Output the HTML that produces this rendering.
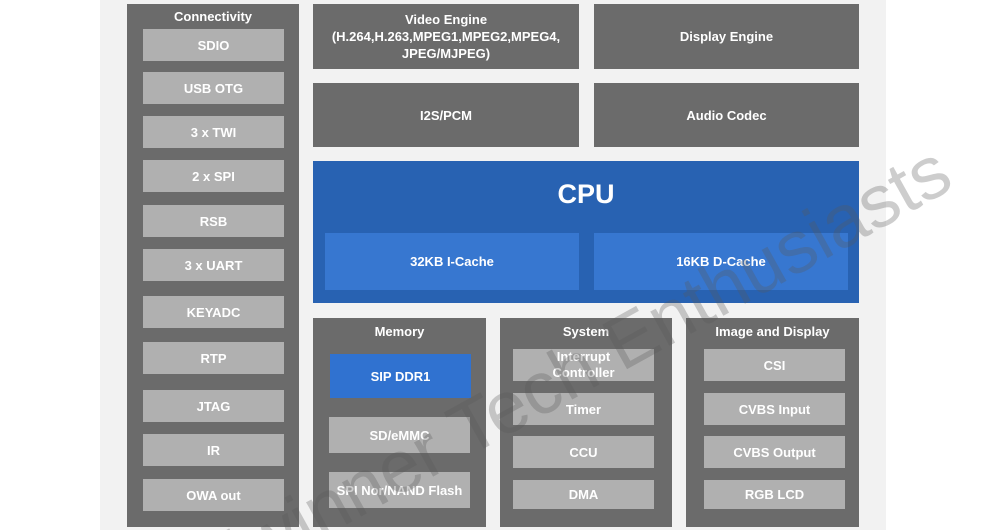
<!DOCTYPE html>
<html><head><style>
html,body{margin:0;width:990px;height:530px;overflow:hidden;background:#fff}
#w{position:relative;width:990px;height:530px;overflow:hidden;font-family:"Liberation Sans",sans-serif;font-weight:bold;color:#fff}
.bg{position:absolute;left:100px;top:0;width:786px;height:530px;background:#f2f2f2}
.d{position:absolute;background:#6b6b6b;display:flex;align-items:center;justify-content:center;text-align:center;font-size:13px;line-height:17px}
.l{position:absolute;background:#b0b0b0;display:flex;align-items:center;justify-content:center;text-align:center;font-size:13px;line-height:17px}
.t{position:absolute;left:0;right:0;text-align:center;font-size:13px}
svg{position:absolute;left:0;top:0;overflow:hidden}
</style></head><body><div id="w">
<div class="bg"></div>
<div class="d" style="left:127px;top:4px;width:172px;height:523px;display:block"><div class="t" style="top:4px">Connectivity</div></div>
<div class="l" style="left:143px;top:29px;width:141px;height:32px">SDIO</div>
<div class="l" style="left:143px;top:72px;width:141px;height:32px">USB OTG</div>
<div class="l" style="left:143px;top:116px;width:141px;height:32px">3 x TWI</div>
<div class="l" style="left:143px;top:160px;width:141px;height:32px">2 x SPI</div>
<div class="l" style="left:143px;top:205px;width:141px;height:32px">RSB</div>
<div class="l" style="left:143px;top:249px;width:141px;height:32px">3 x UART</div>
<div class="l" style="left:143px;top:296px;width:141px;height:32px">KEYADC</div>
<div class="l" style="left:143px;top:342px;width:141px;height:32px">RTP</div>
<div class="l" style="left:143px;top:390px;width:141px;height:32px">JTAG</div>
<div class="l" style="left:143px;top:434px;width:141px;height:32px">IR</div>
<div class="l" style="left:143px;top:479px;width:141px;height:32px">OWA out</div>

<div class="d" style="left:313px;top:4px;width:266px;height:65px">Video Engine<br>(H.264,H.263,MPEG1,MPEG2,MPEG4,<br>JPEG/MJPEG)</div>
<div class="d" style="left:594px;top:4px;width:265px;height:65px">Display Engine</div>
<div class="d" style="left:313px;top:83px;width:266px;height:64px">I2S/PCM</div>
<div class="d" style="left:594px;top:83px;width:265px;height:64px">Audio Codec</div>

<div style="position:absolute;left:313px;top:161px;width:546px;height:142px;background:#2862b2"><div class="t" style="top:18px;font-size:27px">CPU</div></div>
<div class="d" style="left:325px;top:233px;width:254px;height:57px;background:#3777d0">32KB I-Cache</div>
<div class="d" style="left:594px;top:233px;width:254px;height:57px;background:#3777d0">16KB D-Cache</div>

<div class="d" style="left:313px;top:318px;width:173px;height:209px;display:block"><div class="t" style="top:5px">Memory</div></div>
<div class="d" style="left:330px;top:354px;width:141px;height:44px;background:#3072d0">SIP DDR1</div>
<div class="l" style="left:329px;top:417px;width:141px;height:36px">SD/eMMC</div>
<div class="l" style="left:329px;top:472px;width:141px;height:36px">SPI Nor/NAND Flash</div>

<div class="d" style="left:500px;top:318px;width:172px;height:209px;display:block"><div class="t" style="top:5px">System</div></div>
<div class="l" style="left:513px;top:349px;width:141px;height:32px;line-height:16px">Interrupt<br>Controller</div>
<div class="l" style="left:513px;top:393px;width:141px;height:32px">Timer</div>
<div class="l" style="left:513px;top:436px;width:141px;height:32px">CCU</div>
<div class="l" style="left:513px;top:480px;width:141px;height:29px">DMA</div>

<div class="d" style="left:686px;top:318px;width:173px;height:209px;display:block"><div class="t" style="top:5px">Image and Display</div></div>
<div class="l" style="left:704px;top:349px;width:141px;height:32px">CSI</div>
<div class="l" style="left:704px;top:393px;width:141px;height:32px">CVBS Input</div>
<div class="l" style="left:704px;top:436px;width:141px;height:32px">CVBS Output</div>
<div class="l" style="left:704px;top:480px;width:141px;height:29px">RGB LCD</div>

<svg width="990" height="530" viewBox="0 0 990 530"><text transform="translate(175,590) rotate(-29)" x="0" y="26" font-family="Liberation Sans, sans-serif" font-weight="normal" font-size="74" fill="rgb(90,90,90)" fill-opacity="0.3">Allwinner Tech Enthusiasts</text></svg>
</div></body></html>
